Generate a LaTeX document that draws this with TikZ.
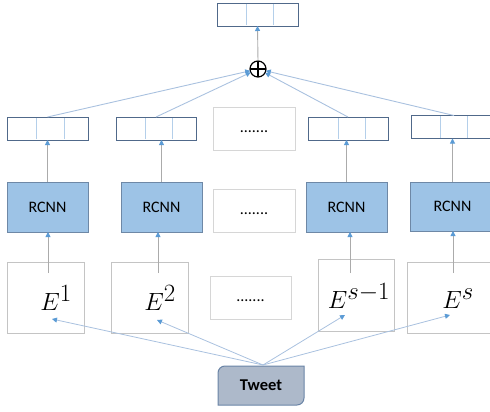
\documentclass[tikz,border=0pt]{standalone}
\usepackage{fontspec}
\setsansfont{Carlito}
\usetikzlibrary{arrows.meta,calc,backgrounds}
\definecolor{tipblue}{HTML}{5B9BD5}
\definecolor{vecborder}{HTML}{50698A}
\definecolor{vecdiv}{HTML}{B4CFEA}
\definecolor{rcnnfill}{HTML}{9DC3E6}
\definecolor{rcnnborder}{HTML}{6E88A6}
\definecolor{twfill}{HTML}{ADB9CA}
\definecolor{twborder}{HTML}{6A84A6}
\definecolor{lightline}{HTML}{A9C1DF}
\definecolor{grayline}{HTML}{ABABAB}
\definecolor{eborder}{HTML}{C4C4C4}
\definecolor{dotborder}{HTML}{D6D6D6}
\tikzset{
  vecbox/.style={draw=vecborder, line width=0.9pt, inner sep=0pt, outer sep=0pt, minimum height=23pt},
  divline/.style={draw=vecdiv, line width=0.9pt},
  rcnnbox/.style={draw=rcnnborder, fill=rcnnfill, line width=1pt, inner sep=0pt, outer sep=0pt, minimum height=50pt, font=\sffamily\fontsize{16}{18}\selectfont},
  ebox/.style={draw=eborder, line width=0.8pt, inner sep=0pt, outer sep=0pt},
  dotbox/.style={draw=dotborder, line width=0.8pt, inner sep=0pt, outer sep=0pt, minimum width=82pt, minimum height=43pt, font=\sffamily\fontsize{16}{18}\selectfont},
  etext/.style={inner sep=0pt, font=\fontsize{34}{36}\selectfont},
  tip/.style={-{Triangle[length=5pt,width=5pt,color=tipblue]}},
  upline/.style={tip, draw=grayline, line width=0.9pt},
  toplus/.style={tip, draw=lightline, line width=0.9pt},
  fromtweet/.style={tip, draw=lightline, line width=0.8pt},
  twshape/.style={fill=twfill, draw=twborder, line width=1pt},
}
\begin{document}
\begin{tikzpicture}[x=1pt,y=-1pt]
\useasboundingbox (0,0) rectangle (490,412);
\clip (0,0) rectangle (490,412);

% top vector
\node[vecbox, minimum width=81pt] (top) at (257.5,14.5) {};
\draw[divline] (246,4) -- (246,25) (273,4) -- (273,25);

% oplus
\node[circle, draw=black, line width=1.2pt, minimum size=16pt, inner sep=0pt, outer sep=0pt] (o) at (258,69) {};
\draw[line width=1.2pt] (o.north) -- (o.south) (o.west) -- (o.east);
\draw[upline] (o.north) -- (top.south);

% vectors row
\node[vecbox, minimum width=81pt] (v1) at (47.5,128.5) {};
\node[vecbox, minimum width=80pt] (v2) at (156,128.5) {};
\node[dotbox] (d1) at (254,128.5) {\vphantom{Ag}.......};
\node[vecbox, minimum width=80pt] (v4) at (348,128.5) {};
\node[vecbox, minimum width=86pt] (v5) at (454,127) {};
\draw[divline] (36,118) -- (36,139) (64,118) -- (64,139)
  (145,118) -- (145,139) (172,118) -- (172,139)
  (338,118) -- (338,139) (365,118) -- (365,139)
  (440,116) -- (440,138) (467,116) -- (467,138);

\draw[toplus] (v1.north) -- (o);
\draw[toplus] (v2.north) -- (o);
\draw[toplus] (v4.north) -- (o);
\draw[toplus] (v5.north) -- (o);

% RCNN row
\node[rcnnbox, minimum width=81pt] (r1) at (47.5,207) {RCNN};
\node[rcnnbox, minimum width=81pt] (r2) at (161.5,207) {RCNN};
\node[dotbox] (d2) at (254,210.5) {\vphantom{Ag}.......};
\node[rcnnbox, minimum width=81pt] (r4) at (346.5,207) {RCNN};
\node[rcnnbox, minimum width=85pt, minimum height=49pt] (r5) at (452.5,206.5) {RCNN};

\draw[upline] (r1.north) -- (r1.north |- v1.south);
\draw[upline] (r2.north) -- (r2.north |- v2.south);
\draw[upline] (r4.north) -- (r4.north |- v4.south);
\draw[upline] (r5.north) -- (r5.north |- v5.south);

% E row
\node[ebox, minimum width=77pt, minimum height=71pt] (e1) at (45.5,297.5) {};
\node[ebox, minimum width=77pt, minimum height=71pt] (e2) at (149.5,297.5) {};
\node[dotbox, minimum width=81pt] (d3) at (250.5,297.5) {\vphantom{Ag}.......};
\node[ebox, minimum width=76pt, minimum height=72pt] (e4) at (356,295) {};
\node[ebox, minimum width=85pt, minimum height=71pt] (e5) at (449.5,297.5) {};

\node[etext] (e1t) at (56,298) {$E^{1}$};
\node[etext] (e2t) at (160,298) {$E^{2}$};
\node[etext] (e4t) at (359,296) {$E^{s-1}$};
\node[etext] (e5t) at (458,299) {$E^{s}$};

\coordinate (u1) at (48,273);
\coordinate (u2) at (158,273);
\coordinate (u4) at (350,273);
\coordinate (u5) at (453,273);
\draw[upline] (u1) -- (u1 |- r1.south);
\draw[upline] (u2) -- (u2 |- r2.south);
\draw[upline] (u4) -- (u4 |- r4.south);
\draw[upline] (u5) -- (u5 |- r5.south);

% Tweet
\node[inner sep=0pt, outer sep=0pt, minimum width=86pt, minimum height=39pt, font=\sffamily\bfseries\fontsize{16.5}{18}\selectfont] (tw) at (261,385.5) {Tweet};
\begin{scope}[on background layer]
\draw[twshape] (tw.south west) -- ([yshift=-7pt]tw.north west) to[out=90,in=180] ([xshift=7pt]tw.north west) -- (tw.north east) -- ([yshift=7pt]tw.south east) to[out=-90,in=0] ([xshift=-7pt]tw.south east) -- cycle;
\end{scope}

\coordinate (tt) at (263,365);
\coordinate (a1) at (52,319);
\coordinate (a2) at (157,320);
\coordinate (a4) at (345,315);
\coordinate (a5) at (450,315);
\draw[fromtweet] (tt) -- (a1);
\draw[fromtweet] (tt) -- (a2);
\draw[fromtweet] (tt) -- (a4);
\draw[fromtweet] (tt) -- (a5);
\end{tikzpicture}
\end{document}
